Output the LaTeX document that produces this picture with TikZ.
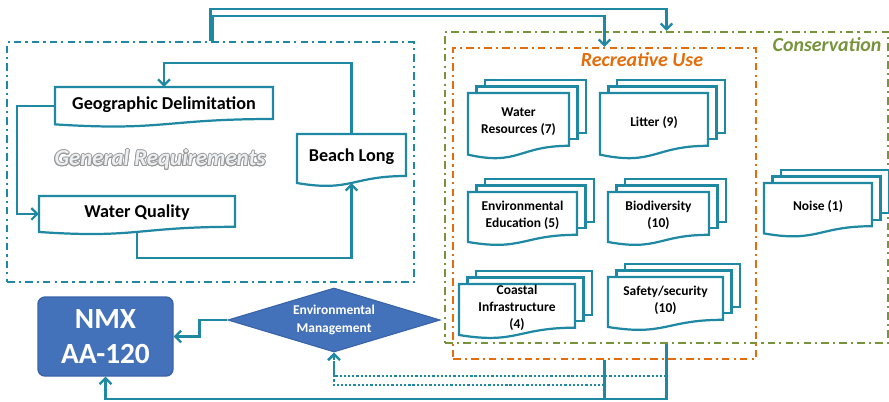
\documentclass[tikz,border=0pt]{standalone}
\usepackage{fontspec}
\setmainfont{Carlito}
\usepackage{contour}
\usetikzlibrary{arrows.meta,shapes.geometric,fit}

\definecolor{tealline}{RGB}{31,137,163}
\definecolor{consgreen}{RGB}{119,147,60}
\definecolor{recorange}{RGB}{228,108,10}
\definecolor{mgmtblue}{RGB}{68,114,186}
\definecolor{mgmtedge}{RGB}{58,100,170}
\definecolor{reqgray}{RGB}{236,240,243}

\tikzset{
  docline/.style={draw=tealline,line width=1.9pt,fill=white},
  doctext/.style={inner sep=0pt,align=center,font=\bfseries\fontsize{11.5}{14.5}\selectfont},
  reqtext/.style={inner sep=0pt,align=center,font=\bfseries\fontsize{15.5}{18}\selectfont},
  frame/.style={line width=2pt,dash pattern=on 6.5pt off 3.5pt on 1.8pt off 3.5pt,inner sep=0pt},
  conn/.style={draw=tealline,line width=1.9pt,-{Straight Barb[length=5pt,width=10pt]}},
  densedots/.style={dash pattern=on 1.9pt off 1.7pt},
}
\contourlength{0.7pt}

\newcommand\docbox[7]{%
  \draw[docline] (#2,#3) -- ({#2+#4},#3) -- ({#2+#4},{#3+0.8*#5})
    .. controls ({#2+0.5*#4},{#3+0.8*#5}) and ({#2+0.5*#4},{#3+1.108*#5}) .. (#2,{#3+0.934*#5}) -- cycle;
  \node[fit={(#2,#3) ({#2+#4},{#3+0.932*#5})},inner sep=0pt] (#1) {};
  \node[#6] (#1-txt) at ({#2+0.5*#4},{#3+0.44*#5}) {#7};
}
\newcommand\docstack[6]{%
  \foreach \k in {2,1}
    \draw[docline] ({#2+8.5*\k},{#3-6.5*\k}) rectangle ({#2+#4+8.5*\k},{#3+0.8*#5-6.5*\k});
  \docbox{#1}{#2}{#3}{#4}{#5}{doctext}{#6}%
}

\begin{document}
\begin{tikzpicture}[x=0.3mm,y=-0.3mm]
\path[use as bounding box] (0,0) rectangle (889,401);
\node[frame,draw=tealline,fit={(7,42) (414,282)}] (genreq) {};
\node[frame,draw=consgreen,fit={(445,32) (888,343)}] (cons) {};
\node[frame,draw=recorange,fit={(453,48) (756,359)}] (rec) {};
\node[text=recorange,font=\bfseries\itshape\fontsize{17}{20}\selectfont] (rec-label) at (642,60) {Recreative Use};
\node[text=consgreen,font=\bfseries\itshape\fontsize{17}{20}\selectfont] (cons-label) at (827,45) {Conservation};
\node[font=\bfseries\itshape\fontsize{19.5}{22}\selectfont] (genreq-label) at (160,160) {\contour{gray!80}{\textcolor{reqgray}{General Requirements}}};

\docbox{geo}{55}{87}{218}{40}{reqtext}{Geographic Delimitation}
\docbox{wq}{39}{196}{196}{38.5}{reqtext}{Water Quality}
\docbox{bl}{297}{134}{109}{52.5}{reqtext}{Beach Long}

\docstack{water}{468}{93}{101}{66}{Water\\Resources (7)}
\docstack{litter}{600}{93}{108}{66}{Litter (9)}
\docstack{educ}{468}{192}{109}{53.5}{Environmental\\Education (5)}
\docstack{biodiv}{608}{192}{101}{53.5}{Biodiversity\\(10)}
\docstack{coast}{459}{284}{116}{54.6}{Coastal\\Infrastructure\\(4)}
\docstack{safety}{608}{277}{115}{53.5}{Safety/security\\(10)}
\docstack{noise}{764}{183}{108}{54}{Noise (1)}

\node[draw=mgmtedge,fill=mgmtblue,line width=1.2pt,rounded corners=6pt,inner sep=0pt,
  minimum width=40.5mm,minimum height=23.7mm,text=white,align=center,
  font=\bfseries\fontsize{25}{30}\selectfont] (nmx) at (105.5,336.5) {NMX\\AA-120};
\node[diamond,draw=mgmtedge,fill=mgmtblue,line width=1pt,shape aspect=3.3,inner sep=0pt,
  minimum width=63.6mm,minimum height=19.2mm,text=white,align=center,
  font=\bfseries\fontsize{11.5}{15}\selectfont] (envman) at (334,320) {Environmental\\Management};

\draw[conn] (geo.west) -- ++(-38,0) |- (wq.west);
\draw[conn] (wq.south) -- ++(0,26) -| (bl.south);
\draw[conn] (bl.north) -- ++(0,-71) -| (geo.north);
\draw[conn] (genreq.north) -- ++(0,-32) -| (cons.north);
\draw[conn] ([xshift=0.8mm]genreq.north) -- ++(0,-25) -| (rec.north);
\draw[conn] (cons.south) -- ++(0,55) -| (nmx.south);
\draw[tealline,line width=1.9pt] (rec.south) -- ++(0,39);
\draw[conn,densedots] ([yshift=-9.6mm]cons.south) -| (envman.south);
\draw[conn,densedots] ([yshift=-7.5mm]rec.south) -| (envman.south);
\draw[conn] (envman.west) -- ++(-28,0) |- (nmx.east);
\end{tikzpicture}
\end{document}
